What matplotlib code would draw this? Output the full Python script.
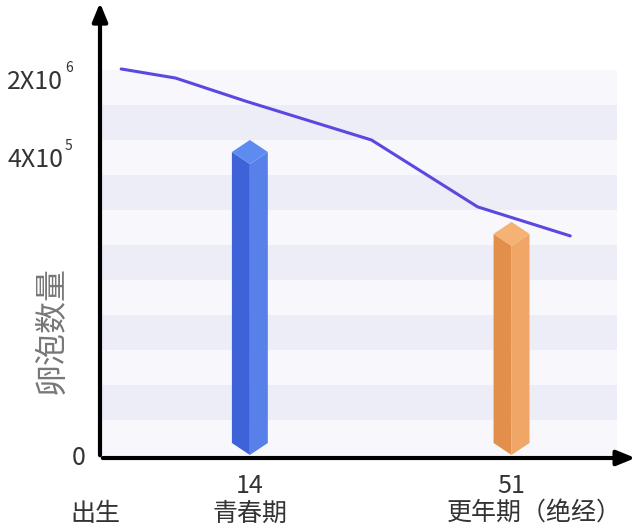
import matplotlib.pyplot as plt
from matplotlib.patches import Polygon

plt.rcParams['font.family'] = ['Noto Sans CJK SC', 'DejaVu Sans']

# follicle curve (age in years, height in stripe units)
line_age = [-4.2, 3.5, 13.4, 31.2, 46.2, 59.3]
line_level = [11.03, 10.77, 10.11, 9.0, 7.09, 6.26]

# prism bars
bar_age = [14, 51]
bar_top = [9.0, 6.66]
bar_faces = [('#3e63d8', '#5781e8', '#5d8bf0'),
             ('#e18f4b', '#f0a666', '#f4b274')]

ytick_pos = [10.66, 8.43, -0.09]
ytick_base = ['2X10', '4X10', '0']
ytick_exp = ['6', '5', '']

xtick_age = [14, 51]
stage_age = [-7.8, 14, 54.2]
stage_name = ['出生', '青春期', '更年期（绝经）']

n_stripes = 11
txt = '#333333'

fig = plt.figure(figsize=(6.4, 5.28), dpi=100)
ax = fig.add_axes([100 / 640, 70 / 528, 536 / 640, 458 / 528])
ax.set_xlim(-7.19, 68.6)
ax.set_ylim(-0.086, 13.0)
for s in ax.spines.values():
    s.set_visible(False)
ax.set_xticks([])
ax.set_yticks([])

# striped background
x0, x1 = -6.9, 65.97
for i in range(n_stripes):
    c = '#f7f7fc' if (n_stripes - 1 - i) % 2 == 0 else '#ededf8'
    ax.fill_between([x0, x1], i, i + 1, color=c, lw=0, zorder=0)

# bars drawn as prisms
w = 2.54   # half width in years
d = 0.343  # half height of the diamond cap
for cx, top, (cl, cr, ct) in zip(bar_age, bar_top, bar_faces):
    ax.add_patch(Polygon([(cx - w, top - d), (cx, top - 2 * d), (cx, 0), (cx - w, d)],
                         closed=True, color=cl, lw=0, zorder=2))
    ax.add_patch(Polygon([(cx, top - 2 * d), (cx + w, top - d), (cx + w, d), (cx, 0)],
                         closed=True, color=cr, lw=0, zorder=2))
    ax.add_patch(Polygon([(cx - w, top - d), (cx, top), (cx + w, top - d), (cx, top - 2 * d)],
                         closed=True, color=ct, lw=0, zorder=2))

ax.plot(line_age, line_level, color='#5a48e0', lw=2.2, zorder=3, solid_capstyle='round')

# axes arrows
ax.annotate('', xy=(-7.19, 13.0), xytext=(-7.19, -0.086),
            arrowprops=dict(arrowstyle='-|>,head_length=1.1,head_width=0.45', color='black', lw=3),
            annotation_clip=False)
ax.annotate('', xy=(68.9, -0.086), xytext=(-7.19, -0.086),
            arrowprops=dict(arrowstyle='-|>,head_length=1.1,head_width=0.45', color='black', lw=3),
            annotation_clip=False)

# y labels
for y, b, e in zip(ytick_pos, ytick_base, ytick_exp):
    xb = -12.4 if e else -9.2
    ax.text(xb, y, b, ha='right', va='center', fontsize=18, color=txt, clip_on=False)
    if e:
        ax.text(-11.6, y + 0.2, e, ha='center', va='bottom', fontsize=10, color=txt, clip_on=False)

ax.text(-14.0, 3.57, '卵泡数量', rotation=90, ha='center', va='center',
        fontsize=23, color='#777777', clip_on=False)

# x labels
for a in xtick_age:
    ax.text(a, -0.88, str(a), ha='center', va='center', fontsize=18, color=txt, clip_on=False)
for a, n in zip(stage_age, stage_name):
    ax.text(a, -1.68, n, ha='center', va='center', fontsize=18, color=txt, clip_on=False)

fig.savefig('out.png', dpi=100)
